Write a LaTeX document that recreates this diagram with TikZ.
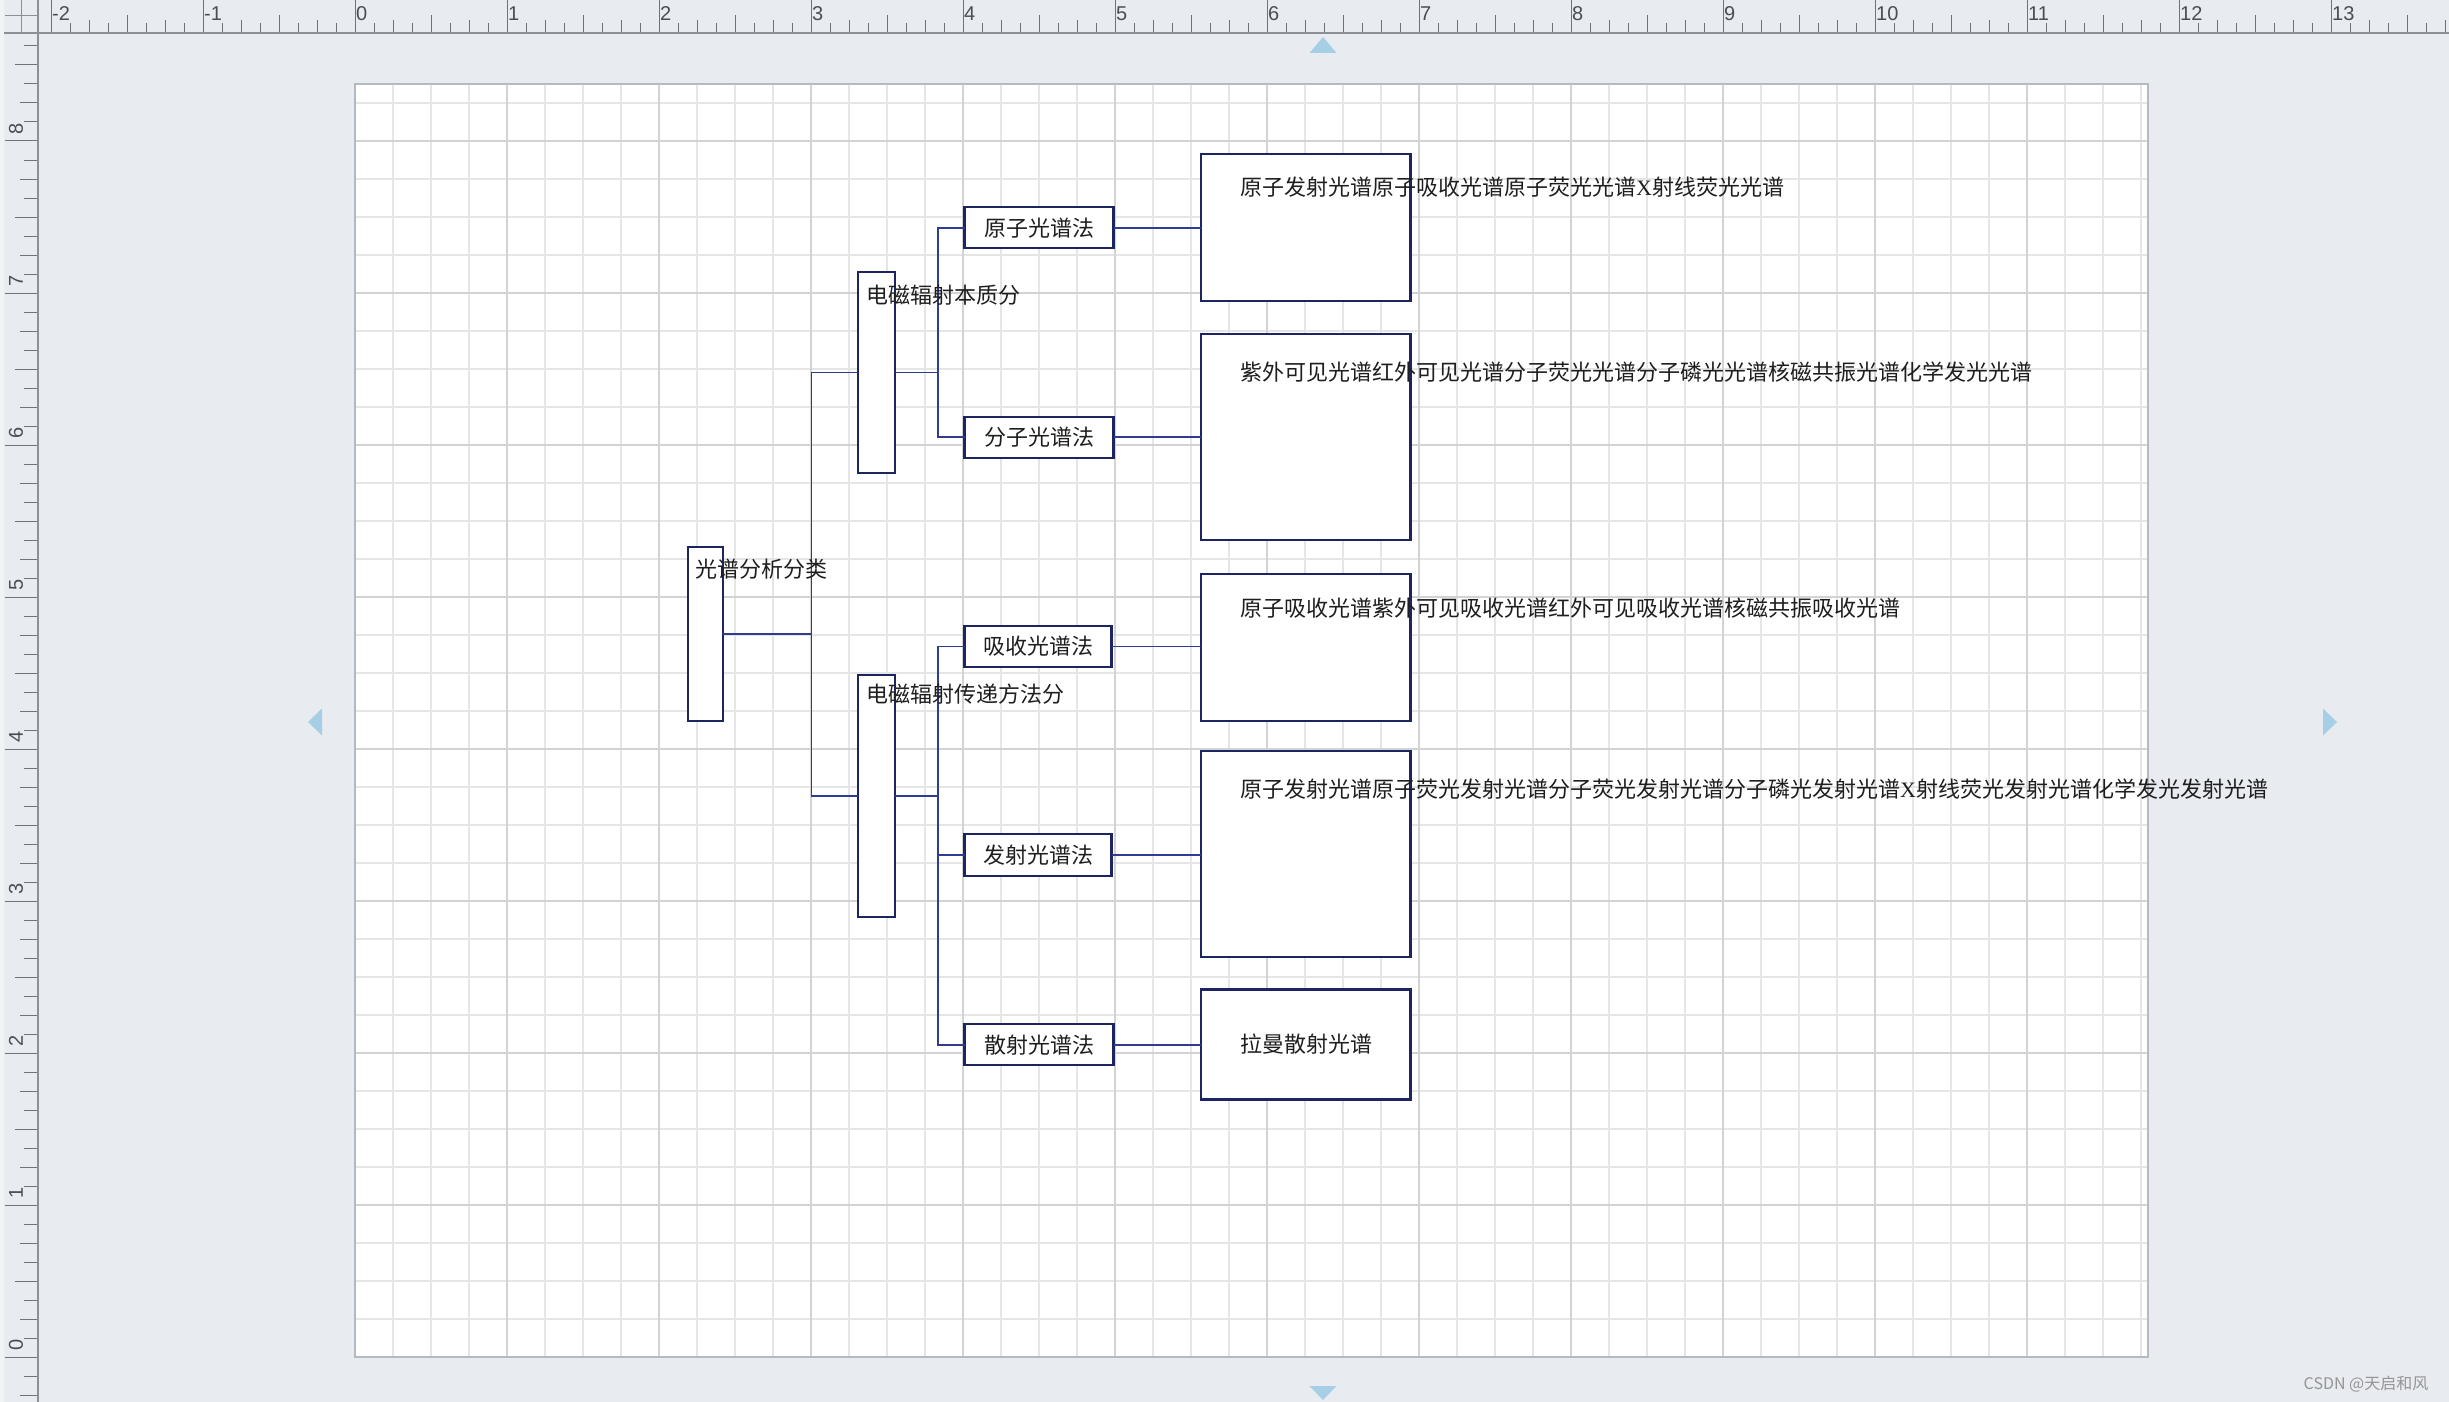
\documentclass[tikz,border=0pt]{standalone}
\usepackage{fontspec}
\setmainfont{Liberation Serif}
\newfontfamily\cjk{Noto Sans CJK SC}
\newfontfamily\rulerfont{Liberation Sans}
\usetikzlibrary{positioning}

\definecolor{canvas}{HTML}{E8ECF0}
\definecolor{stripcol}{HTML}{F2F3F4}
\definecolor{tickcol}{HTML}{6F7378}
\definecolor{labelcol}{HTML}{4A4E54}
\definecolor{rulerline}{HTML}{8C9096}
\definecolor{gridminor}{HTML}{E5E5E5}
\definecolor{gridmajor}{HTML}{D3D3D3}
\definecolor{pageborder}{HTML}{B5B9C0}
\definecolor{boxcol}{HTML}{1C2461}
\definecolor{linecol}{HTML}{2E3D8F}
\definecolor{markcol}{HTML}{A6CFE5}
\definecolor{textcol}{HTML}{1E1E1E}

\tikzset{
  box/.style={draw=boxcol, line width=2.2pt, fill=white, inner sep=0pt, outer sep=0pt},
  methodbox/.style={box, minimum width=149pt, minimum height=41pt,
    font=\cjk\fontsize{22}{26}\selectfont, text=textcol},
  listbox/.style={box, minimum width=209.5pt},
  txt/.style={font=\cjk\fontsize{22}{26}\selectfont, text=textcol, inner sep=0pt, anchor=west},
  conn/.style={draw=linecol, line width=1.9pt},
  rulerlabel/.style={font=\rulerfont\fontsize{20}{22}\selectfont, text=labelcol, inner sep=0pt},
  marker/.style={fill=markcol},
}

\begin{document}
\begin{tikzpicture}[x=1pt, y=-1pt]
	% Hintergrund
	\useasboundingbox (0,0) rectangle (2449,1402);
	\fill[canvas] (0,0) rectangle (2449,1402);
	\fill[stripcol] (0,0) rectangle (4,1402);

	% Blatt mit Gitternetz
	\fill[white] (355,84) rectangle (2148,1357);
	\foreach \i in {1,...,47} {
		\draw[gridminor, line width=1.6pt] (355+38*\i,84) -- (355+38*\i,1357);
	}
	\foreach \j in {1,...,33} {
		\draw[gridminor, line width=1.6pt] (355,1357-38*\j) -- (2148,1357-38*\j);
	}
	\foreach \i in {1,...,11} {
		\draw[gridmajor, line width=1.6pt] (355+152*\i,84) -- (355+152*\i,1357);
	}
	\foreach \j in {1,...,8} {
		\draw[gridmajor, line width=1.6pt] (355,1357-152*\j) -- (2148,1357-152*\j);
	}
	\draw[pageborder, line width=1.6pt] (355,84) rectangle (2148,1357);

	% Lineal oben
	\begin{scope}[tickcol, line width=1pt]
		\clip (38,0) rectangle (2449,33);
		\foreach \m in {-3,...,13} {
			\pgfmathsetmacro\xm{355+152*\m}
			\draw (\xm,0) -- (\xm,33);
			\draw (\xm+76,15) -- (\xm+76,33);
			\foreach \q in {38,114} \draw (\xm+\q,20) -- (\xm+\q,33);
			\foreach \e in {19,57,95,133} \draw (\xm+\e,23) -- (\xm+\e,33);
		}
	\end{scope}
	\foreach \m in {-2,...,13} {
		\node[rulerlabel, anchor=west] (rx\m) at (355+152*\m+1,14) {\m};
	}

	% Lineal links
	\begin{scope}[tickcol, line width=1pt]
		\clip (4,33) rectangle (38,1402);
		\foreach \m in {-1,...,9} {
			\pgfmathsetmacro\ym{1357-152*\m}
			\draw (5,\ym) -- (38,\ym);
			\draw (15,\ym-76) -- (38,\ym-76);
			\foreach \q in {38,114} \draw (20,\ym-\q) -- (38,\ym-\q);
			\foreach \e in {19,57,95,133} \draw (24,\ym-\e) -- (38,\ym-\e);
		}
	\end{scope}
	\foreach \m in {0,...,8} {
		\node[rulerlabel, rotate=90] (ry\m) at (16,1357-152*\m-12) {\m};
	}

	% Linealraender
	\draw[rulerline, line width=1.5pt] (4,33) -- (2449,33);
	\draw[rulerline, line width=1.5pt] (38,0) -- (38,1402);
	\draw[rulerline, line width=1pt] (5,16) -- (38,16);
	\draw[rulerline, line width=1pt] (21,0) -- (21,33);

	% Blattmarken
	\fill[marker] (1309.5,53) -- (1336.5,53) -- (1323,37) -- cycle;
	\fill[marker] (1309.5,1386) -- (1336.5,1386) -- (1323,1400) -- cycle;
	\fill[marker] (322,708.5) -- (322,735.5) -- (308,722) -- cycle;
	\fill[marker] (2323,708.5) -- (2323,735.5) -- (2337,722) -- cycle;

	% Knoten
	\node[box, minimum width=35pt, minimum height=174pt] (root) at (705.5,634) {};
	\node[box, minimum width=37pt, minimum height=201pt] (nature) at (876.5,372.5) {};
	\node[box, minimum width=37pt, minimum height=242pt] (transfer) at (876.5,796) {};

	\node[methodbox] (atomic) at (1039,227.8) {原子光谱法};
	\node[methodbox] (molecular) at (1039,437.3) {分子光谱法};
	\node[methodbox, minimum width=147pt] (absorb) at (1038,646.5) {吸收光谱法};
	\node[methodbox, minimum width=147pt, minimum height=42pt] (emit) at (1038,854.8) {发射光谱法};
	\node[methodbox] (scatter) at (1039,1044.8) {散射光谱法};

	\node[listbox, minimum height=146.7pt] (listA) at (1305.7,227.3) {};
	\node[listbox, minimum height=206pt] (listB) at (1305.7,437.2) {};
	\node[listbox, minimum height=146.4pt] (listC) at (1305.7,647.5) {};
	\node[listbox, minimum height=205.7pt] (listD) at (1305.7,854.2) {};
	\node[listbox, minimum height=110pt] (listE) at (1305.7,1044.5) {};

	% Verbindungen
	\coordinate (busA) at (811.5,634);
	\coordinate (busB) at (938,634);
	\draw[conn] (root.east) -- (root.east -| busA) |- (nature.west);
	\draw[conn] (root.east -| busA) |- (transfer.west);
	\draw[conn] (nature.east) -- (nature.east -| busB) |- (atomic.west);
	\draw[conn] (nature.east -| busB) |- (molecular.west);
	\draw[conn] (transfer.east) -- (transfer.east -| busB) |- (absorb.west);
	\draw[conn] (transfer.east -| busB) |- (emit.west);
	\draw[conn] (transfer.east -| busB) |- (scatter.west);
	\draw[conn] (atomic.east) -- (atomic.east -| listA.west);
	\draw[conn] (molecular.east) -- (molecular.east -| listB.west);
	\draw[conn] (absorb.east) -- (absorb.east -| listC.west);
	\draw[conn] (emit.east) -- (emit.east -| listD.west);
	\draw[conn] (scatter.east) -- (scatter.east -| listE.west);

	% Beschriftungen
	\node[txt] (rootText) at ([xshift=7pt, yshift=-22pt]root.north west) {光谱分析分类};
	\node[txt] (natureText) at ([xshift=8.6pt, yshift=-23pt]nature.north west) {电磁辐射本质分};
	\node[txt] (transferText) at ([xshift=8.6pt, yshift=-19.3pt]transfer.north west) {电磁辐射传递方法分};
	\node[txt] (textA) at ([xshift=39pt, yshift=-32.7pt]listA.north west) {原子发射光谱原子吸收光谱原子荧光光谱{\rmfamily X}射线荧光光谱};
	\node[txt] (textB) at ([xshift=39pt, yshift=-38.3pt]listB.north west) {紫外可见光谱红外可见光谱分子荧光光谱分子磷光光谱核磁共振光谱化学发光光谱};
	\node[txt] (textC) at ([xshift=39pt, yshift=-33.6pt]listC.north west) {原子吸收光谱紫外可见吸收光谱红外可见吸收光谱核磁共振吸收光谱};
	\node[txt] (textD) at ([xshift=39pt, yshift=-37.6pt]listD.north west) {原子发射光谱原子荧光发射光谱分子荧光发射光谱分子磷光发射光谱{\rmfamily X}射线荧光发射光谱化学发光发射光谱};
	\node[txt] (textE) at ([xshift=39pt]listE.west) {拉曼散射光谱};

	% Wasserzeichen
	\node[font=\cjk\fontsize{16}{18}\selectfont, text=black!42, inner sep=0pt] (mark) at (2366,1384.5) {CSDN @天启和风};
\end{tikzpicture}
\end{document}
